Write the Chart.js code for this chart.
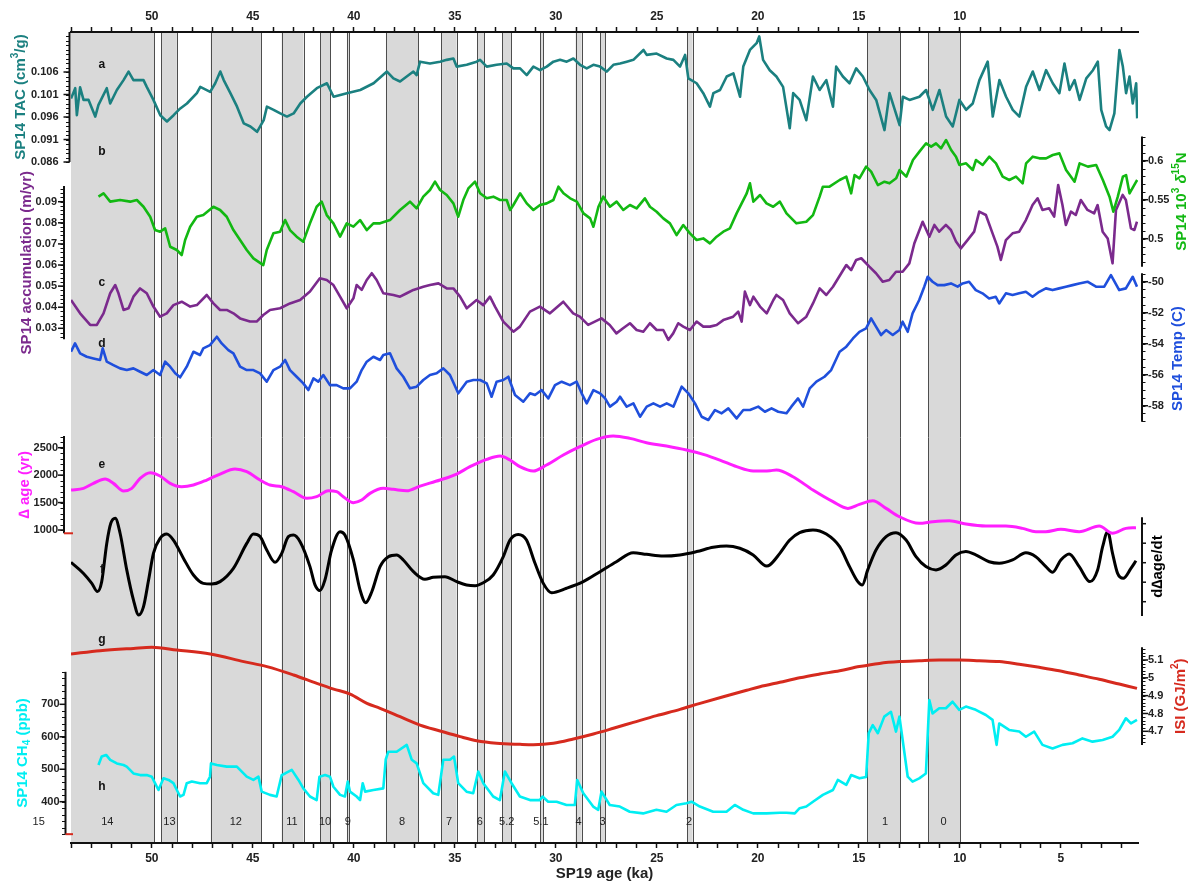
<!DOCTYPE html>
<html>
<head>
<meta charset="utf-8">
<title>SP14 records vs SP19 age</title>
<script src="https://cdn.jsdelivr.net/npm/chart.js@4.4.1/dist/chart.umd.min.js"></script>
<style>
  html, body { margin: 0; padding: 0; background: #fff; }
  #wrap { width: 1192px; height: 881px; }
</style>
</head>
<body>
<div id="wrap"><canvas id="chart" width="1192" height="881"></canvas></div>
<script>
// ---- tick labels ----
const bottomTicks = [50, 45, 40, 35, 30, 25, 20, 15, 10, 5];
const topTicks = [50, 45, 40, 35, 30, 25, 20, 15, 10];
const tacTicks = [0.086, 0.091, 0.096, 0.101, 0.106];
const n15Ticks = [0.5, 0.55, 0.6];
const accTicks = [0.03, 0.04, 0.05, 0.06, 0.07, 0.08, 0.09];
const tempTicks = [-58, -56, -54, -52, -50];
const dageTicks = [1000, 1500, 2000, 2500];
const rateTicks = [-0.2, -0.1, 0, 0.1, 0.2];
const isiTicks = [4.7, 4.8, 4.9, 5, 5.1];
const ch4Ticks = [400, 500, 600, 700];

// ---- stadials (ka) and event numbers ----
const stadialStart = [54.0, 49.54, 47.08, 43.57, 41.67, 40.34, 38.41, 35.67, 33.90, 32.65, 30.77, 29.02, 27.80, 23.50, 14.59, 11.57];
const stadialEnd = [49.88, 48.76, 44.59, 42.49, 41.17, 40.22, 36.81, 34.91, 33.54, 32.21, 30.64, 28.72, 27.56, 23.23, 12.94, 9.97];
const eventNames = ['15', '14', '13', '12', '11', '10', '9', '8', '7', '6', '5.2', '5.1', '4', '3', '2', '1', '0'];
const eventAge = [55.6, 52.2, 49.13, 45.84, 43.06, 41.42, 40.30, 37.61, 35.29, 33.76, 32.43, 30.74, 28.87, 27.68, 23.40, 13.70, 10.81];

// ---- a: SP14 TAC (cm3/g) ----
const tacAge = [54.0,53.79,53.71,53.55,53.38,53.13,52.80,52.64,52.23,52.06,51.73,51.40,51.15,50.91,50.41,50.25,49.92,49.58,49.25,48.92,48.59,48.26,47.77,47.60,47.11,46.86,46.61,46.44,46.11,45.78,45.45,45.12,44.79,44.46,44.30,43.97,43.64,43.31,42.98,42.65,42.32,41.83,41.33,41.00,40.34,39.68,39.02,38.36,38.04,37.71,37.38,37.05,36.89,36.72,36.23,35.73,35.40,35.07,34.91,34.41,33.92,33.75,33.42,32.93,32.43,32.10,31.77,31.44,31.11,30.78,30.45,30.12,29.79,29.46,29.13,28.80,28.47,28.14,27.81,27.48,27.15,26.82,26.49,26.16,25.66,25.50,25.01,24.51,24.18,23.85,23.60,23.44,23.03,22.70,22.37,22.20,21.87,21.54,21.21,20.88,20.72,20.39,20.06,19.93,19.74,19.41,19.08,18.75,18.42,18.25,17.93,17.60,17.27,16.94,16.61,16.28,16.12,15.79,15.46,15.13,14.80,14.47,14.14,13.73,13.48,12.98,12.82,12.49,12.00,11.67,11.34,11.01,10.68,10.35,10.02,9.69,9.36,9.03,8.62,8.37,8.04,7.71,7.38,7.05,6.72,6.39,6.06,5.73,5.40,5.07,4.82,4.57,4.32,4.07,3.74,3.41,3.17,3.00,2.76,2.59,2.35,2.10,1.93,1.77,1.60,1.44,1.27,1.22];
const tacVal = [0.1001,0.1024,0.0964,0.1026,0.0998,0.0998,0.0961,0.0987,0.1024,0.0990,0.1020,0.1042,0.1061,0.1042,0.1042,0.1027,0.0998,0.0964,0.0950,0.0964,0.0979,0.0990,0.1013,0.1027,0.1016,0.1035,0.1061,0.1042,0.1013,0.0983,0.0946,0.0939,0.0927,0.0953,0.0983,0.0976,0.0968,0.0961,0.0968,0.0990,0.1005,0.1024,0.1035,0.1005,0.1013,0.1020,0.1035,0.1061,0.1046,0.1039,0.1050,0.1061,0.1053,0.1083,0.1079,0.1083,0.1087,0.1090,0.1072,0.1076,0.1083,0.1087,0.1072,0.1076,0.1079,0.1068,0.1068,0.1053,0.1072,0.1064,0.1072,0.1083,0.1087,0.1083,0.1090,0.1076,0.1068,0.1076,0.1072,0.1061,0.1076,0.1079,0.1083,0.1087,0.1109,0.1098,0.1101,0.1090,0.1087,0.1072,0.1098,0.1046,0.1035,0.1013,0.0983,0.1013,0.1020,0.1050,0.1057,0.1005,0.1072,0.1109,0.1124,0.1139,0.1087,0.1064,0.1050,0.1027,0.0935,0.1013,0.0998,0.0953,0.1050,0.1020,0.1042,0.0983,0.1072,0.1050,0.1035,0.1068,0.1050,0.1020,0.0998,0.0931,0.1013,0.0942,0.1005,0.0998,0.1005,0.1020,0.0976,0.1020,0.0961,0.0939,0.0998,0.0976,0.0990,0.1042,0.1083,0.0961,0.1042,0.1005,0.0976,0.0961,0.1027,0.1061,0.1020,0.1064,0.1035,0.1013,0.1079,0.1020,0.1042,0.0998,0.1046,0.1064,0.1083,0.0976,0.0939,0.0931,0.0968,0.1109,0.1072,0.1013,0.1050,0.0990,0.1035,0.0957];

// ---- b: SP14 10^3 d15N ----
const n15Age = [52.64,52.39,52.06,51.57,51.07,50.74,50.41,50.08,49.84,49.59,49.34,49.09,48.76,48.52,48.35,48.10,47.77,47.45,46.95,46.62,46.29,45.96,45.63,45.30,44.97,44.48,44.31,43.98,43.65,43.40,43.16,42.83,42.50,42.17,41.84,41.59,41.34,41.01,40.68,40.35,40.02,39.69,39.36,39.03,38.70,38.21,37.71,37.22,36.89,36.56,36.23,35.98,35.73,35.40,35.07,34.83,34.58,34.33,34.00,33.75,33.42,33.09,32.76,32.43,32.26,32.10,31.77,31.44,31.11,30.78,30.45,30.12,29.87,29.62,29.29,28.96,28.63,28.30,28.14,27.89,27.65,27.32,26.99,26.66,26.33,26.00,25.59,25.34,25.01,24.68,24.35,24.02,23.69,23.36,23.03,22.70,22.37,22.04,21.71,21.38,21.05,20.80,20.55,20.39,20.22,19.89,19.57,19.24,18.91,18.58,18.09,17.60,17.27,16.94,16.78,16.45,15.95,15.62,15.38,15.21,14.97,14.64,14.39,14.06,13.73,13.48,13.15,12.98,12.65,12.32,12.00,11.67,11.42,11.18,10.93,10.68,10.43,10.19,10.02,9.69,9.36,9.20,8.87,8.54,8.21,7.88,7.55,7.22,6.89,6.72,6.39,6.06,5.73,5.40,5.07,4.74,4.32,4.07,3.66,3.25,2.92,2.59,2.40,2.18,1.93,1.77,1.60,1.27,1.22];
const n15Val = [0.5539,0.5582,0.5475,0.5496,0.5475,0.5496,0.5410,0.5282,0.5111,0.5090,0.5133,0.4897,0.4855,0.4791,0.4983,0.5154,0.5282,0.5303,0.5410,0.5368,0.5282,0.5111,0.4983,0.4855,0.4748,0.4662,0.4855,0.5069,0.5090,0.5239,0.5111,0.5026,0.4962,0.5197,0.5410,0.5475,0.5303,0.5197,0.5026,0.5197,0.5154,0.5239,0.5111,0.5197,0.5197,0.5239,0.5368,0.5475,0.5389,0.5539,0.5624,0.5731,0.5624,0.5560,0.5453,0.5282,0.5496,0.5645,0.5731,0.5582,0.5518,0.5539,0.5496,0.5496,0.5368,0.5432,0.5582,0.5453,0.5368,0.5432,0.5453,0.5496,0.5667,0.5582,0.5518,0.5475,0.5325,0.5261,0.5154,0.5410,0.5539,0.5410,0.5475,0.5368,0.5432,0.5389,0.5518,0.5410,0.5346,0.5261,0.5197,0.5047,0.5175,0.5069,0.4983,0.5004,0.4940,0.5026,0.5090,0.5133,0.5325,0.5453,0.5582,0.5710,0.5475,0.5560,0.5453,0.5410,0.5475,0.5325,0.5197,0.5218,0.5303,0.5539,0.5667,0.5667,0.5753,0.5795,0.5582,0.5816,0.5774,0.5924,0.5859,0.5688,0.5731,0.5710,0.5774,0.5881,0.5795,0.6009,0.6116,0.6223,0.6180,0.6223,0.6159,0.6265,0.6137,0.6052,0.5945,0.5966,0.5881,0.6009,0.5945,0.6052,0.5966,0.5795,0.5753,0.5795,0.5710,0.5966,0.6052,0.6030,0.6030,0.6073,0.6094,0.5881,0.5731,0.5966,0.5924,0.5945,0.5753,0.5539,0.5346,0.5539,0.5795,0.5816,0.5582,0.5731,0.5753];

// ---- c: SP14 accumulation (m/yr) ----
const accAge = [54.0,53.55,53.05,52.72,52.39,52.06,51.81,51.65,51.40,51.15,50.91,50.58,50.25,49.92,49.59,49.26,48.93,48.52,48.10,47.77,47.28,46.95,46.62,46.29,45.96,45.63,45.14,44.81,44.48,44.15,43.65,43.16,42.66,42.17,41.68,41.34,41.01,40.68,40.35,40.02,39.86,39.61,39.36,39.11,38.87,38.54,38.04,37.71,37.38,37.05,36.56,36.23,35.81,35.40,35.07,34.74,34.41,33.92,33.59,33.26,33.01,32.60,32.10,31.78,31.28,30.79,30.29,29.63,29.14,28.81,28.40,28.07,27.74,27.33,27.00,26.67,26.33,26.00,25.67,25.34,25.01,24.68,24.43,24.19,23.94,23.69,23.36,23.03,22.70,22.37,22.04,21.71,21.22,20.97,20.80,20.64,20.39,20.22,19.89,19.56,19.23,19.08,18.75,18.42,18.01,17.60,17.27,16.94,16.61,16.28,15.87,15.62,15.38,15.13,14.88,14.48,14.15,13.82,13.49,13.16,12.83,12.50,12.25,11.84,11.51,11.26,11.02,10.69,10.44,10.19,9.95,9.62,9.29,9.04,8.71,8.38,8.14,7.97,7.72,7.39,7.06,6.73,6.40,6.15,5.91,5.58,5.33,5.13,4.92,4.75,4.50,4.26,4.01,3.68,3.35,3.18,2.93,2.68,2.44,2.27,1.94,1.78,1.53,1.36,1.23];
const accVal = [0.0434,0.0371,0.0316,0.0316,0.0371,0.0466,0.0505,0.0466,0.0387,0.0395,0.0450,0.0489,0.0466,0.0403,0.0355,0.0371,0.0410,0.0426,0.0403,0.0410,0.0458,0.0418,0.0387,0.0387,0.0371,0.0347,0.0332,0.0332,0.0363,0.0387,0.0395,0.0418,0.0434,0.0474,0.0537,0.0529,0.0505,0.0450,0.0395,0.0442,0.0505,0.0482,0.0529,0.0561,0.0529,0.0466,0.0458,0.0450,0.0466,0.0482,0.0497,0.0505,0.0513,0.0489,0.0489,0.0450,0.0395,0.0434,0.0410,0.0450,0.0403,0.0332,0.0284,0.0308,0.0379,0.0403,0.0371,0.0426,0.0371,0.0355,0.0316,0.0332,0.0347,0.0316,0.0276,0.0300,0.0324,0.0292,0.0284,0.0324,0.0292,0.0292,0.0245,0.0276,0.0324,0.0308,0.0292,0.0332,0.0308,0.0308,0.0316,0.0339,0.0355,0.0379,0.0332,0.0474,0.0410,0.0450,0.0403,0.0371,0.0434,0.0458,0.0434,0.0371,0.0324,0.0355,0.0418,0.0489,0.0458,0.0497,0.0561,0.0600,0.0576,0.0624,0.0632,0.0592,0.0561,0.0521,0.0529,0.0568,0.0568,0.0608,0.0703,0.0805,0.0734,0.0790,0.0758,0.0790,0.0766,0.0711,0.0679,0.0718,0.0758,0.0853,0.0837,0.0750,0.0687,0.0624,0.0718,0.0750,0.0758,0.0813,0.0884,0.0916,0.0861,0.0869,0.0829,0.0979,0.0884,0.0790,0.0853,0.0837,0.0908,0.0861,0.0845,0.0884,0.0758,0.0726,0.0608,0.0861,0.0932,0.0908,0.0774,0.0766,0.0805];

// ---- d: SP14 temperature (C) ----
const tempAge = [54.0,53.80,53.55,53.22,52.89,52.56,52.43,52.23,51.90,51.57,51.24,50.91,50.58,50.25,49.92,49.59,49.34,49.09,48.84,48.60,48.27,47.94,47.61,47.45,47.12,46.78,46.54,46.21,45.96,45.63,45.30,44.97,44.64,44.31,43.98,43.65,43.40,43.16,42.83,42.50,42.25,42.00,41.76,41.51,41.18,40.85,40.52,40.19,39.86,39.61,39.36,39.03,38.70,38.54,38.21,37.88,37.55,37.22,36.89,36.56,36.23,35.90,35.57,35.24,34.83,34.41,34.08,33.75,33.42,33.18,32.93,32.60,32.35,32.02,31.61,31.28,31.03,30.70,30.37,30.04,29.71,29.30,28.97,28.72,28.47,28.14,27.81,27.56,27.32,26.99,26.82,26.49,26.16,25.83,25.50,25.17,24.84,24.51,24.18,23.77,23.44,23.11,22.78,22.45,22.12,21.79,21.46,21.05,20.72,20.39,19.98,19.65,19.32,18.99,18.58,18.34,18.01,17.76,17.43,17.10,16.70,16.37,15.95,15.62,15.29,14.97,14.64,14.39,14.15,13.90,13.65,13.32,12.99,12.83,12.58,12.34,12.01,11.76,11.59,11.35,11.10,10.77,10.44,10.11,9.86,9.54,9.21,8.88,8.55,8.22,8.05,7.72,7.39,7.06,6.73,6.40,6.07,5.74,5.41,5.08,4.75,4.42,4.09,3.68,3.26,2.85,2.52,2.11,1.78,1.44,1.23];
const tempVal = [-54.52,-53.98,-54.62,-54.84,-54.95,-55.05,-54.30,-55.16,-55.38,-55.59,-55.70,-55.59,-55.81,-56.02,-55.70,-56.02,-55.16,-55.48,-55.91,-56.17,-55.48,-54.52,-54.73,-54.30,-54.09,-53.55,-53.98,-54.41,-54.62,-55.48,-55.70,-55.70,-55.91,-56.45,-55.70,-55.48,-55.05,-55.70,-56.13,-56.56,-56.99,-56.24,-56.45,-56.02,-56.67,-56.67,-56.88,-56.88,-56.45,-55.70,-55.16,-54.84,-55.05,-54.73,-54.62,-55.59,-56.13,-56.88,-56.77,-56.34,-56.02,-55.91,-55.59,-56.02,-57.20,-56.45,-56.34,-56.34,-56.56,-57.42,-56.45,-56.34,-56.13,-57.31,-57.74,-57.20,-57.31,-56.99,-57.53,-56.67,-56.45,-56.67,-56.45,-57.20,-57.85,-56.99,-57.20,-57.53,-58.06,-57.74,-57.42,-58.06,-57.85,-58.71,-58.06,-57.85,-58.06,-57.85,-58.06,-56.77,-57.20,-57.85,-58.71,-58.92,-58.28,-58.49,-58.17,-58.82,-58.28,-58.28,-58.06,-58.39,-58.17,-58.39,-58.49,-58.06,-57.53,-58.06,-56.88,-56.45,-56.13,-55.70,-54.52,-54.19,-53.66,-53.23,-53.01,-52.37,-52.90,-53.44,-53.12,-53.44,-53.12,-52.58,-53.23,-52.04,-51.18,-50.32,-49.68,-50.00,-50.22,-50.22,-50.11,-50.32,-50.11,-50.00,-50.54,-50.75,-51.08,-50.97,-51.40,-50.75,-50.86,-50.75,-50.65,-50.97,-50.65,-50.43,-50.54,-50.43,-50.32,-50.22,-50.11,-50.00,-50.32,-50.32,-49.57,-50.54,-50.43,-49.68,-50.32];

// ---- e: delta age (yr) ----
const dageAge = [54.0,53.38,52.89,52.31,51.90,51.40,50.99,50.58,50.08,49.59,49.09,48.52,47.94,47.28,46.62,45.88,45.30,44.64,44.15,43.57,42.99,42.33,41.84,41.26,40.85,40.52,40.02,39.61,39.20,38.54,38.04,37.38,36.72,35.73,34.91,34.25,33.42,32.76,32.27,31.78,31.12,30.46,29.63,28.81,27.98,27.16,26.33,25.51,24.52,23.53,22.70,21.88,21.05,20.23,19.40,19.08,18.26,17.27,16.28,15.54,14.97,14.31,13.65,12.99,12.01,11.35,10.52,9.70,8.71,7.72,6.90,6.24,5.74,5.00,4.09,3.10,2.44,1.78,1.28];
const dageVal = [1728,1759,1850,1929,1850,1710,1759,1941,2044,1984,1850,1789,1820,1911,2020,2111,2063,1911,1820,1789,1698,1577,1607,1716,1698,1607,1498,1546,1668,1759,1741,1716,1801,1911,2020,2154,2287,2348,2275,2154,2075,2184,2366,2518,2652,2713,2670,2591,2530,2457,2378,2275,2154,2075,2081,2093,1971,1728,1516,1394,1467,1534,1394,1242,1121,1151,1170,1109,1072,1072,1030,969,969,1012,969,1072,939,1030,1042];

// ---- f: d(delta age)/dt ----
const rateAge = [54.0,53.38,52.97,52.69,52.48,52.23,52.03,51.81,51.57,51.24,50.91,50.65,50.41,50.16,49.92,49.59,49.26,48.93,48.43,47.94,47.45,47.03,46.62,45.96,45.30,44.97,44.64,44.31,43.90,43.57,43.24,42.99,42.66,42.17,41.92,41.68,41.43,41.10,40.68,40.44,40.02,39.69,39.41,39.11,38.70,38.29,37.88,37.55,37.05,36.48,36.07,35.49,34.91,34.42,34.00,33.59,33.10,32.60,32.27,31.86,31.45,31.03,30.62,30.21,29.47,28.64,27.81,27.00,26.17,25.51,24.68,23.86,23.03,22.21,21.55,20.89,20.23,19.56,19.41,18.91,18.42,17.93,17.27,16.61,15.95,15.46,15.05,14.83,14.56,14.15,13.65,13.16,12.66,12.17,11.68,11.18,10.69,10.19,9.70,9.21,8.55,8.05,7.39,6.73,6.24,5.74,5.41,5.00,4.59,4.09,3.56,3.18,2.93,2.68,2.44,2.19,1.91,1.53,1.28];
const rateVal = [0.002,-0.055,-0.106,-0.148,-0.097,0.099,0.202,0.228,0.151,-0.037,-0.191,-0.268,-0.225,-0.089,0.048,0.125,0.147,0.116,0.022,-0.063,-0.106,-0.109,-0.097,-0.029,0.099,0.147,0.134,0.065,0.002,0.048,0.134,0.142,0.108,-0.020,-0.114,-0.143,-0.089,0.065,0.159,0.142,0.014,-0.140,-0.205,-0.149,-0.020,0.031,0.040,0.014,-0.046,-0.085,-0.075,-0.072,-0.097,-0.114,-0.118,-0.103,-0.063,0.031,0.116,0.145,0.116,-0.003,-0.106,-0.154,-0.131,-0.097,-0.046,0.005,0.051,0.043,0.034,0.040,0.057,0.079,0.086,0.074,0.040,-0.017,-0.012,0.048,0.116,0.154,0.168,0.147,0.082,-0.020,-0.097,-0.114,-0.037,0.065,0.134,0.154,0.116,0.031,-0.020,-0.037,-0.012,0.040,0.057,0.040,0.005,-0.003,0.014,0.051,0.031,-0.020,-0.049,0.014,0.045,-0.020,-0.097,-0.037,0.082,0.159,0.048,-0.055,-0.080,-0.029,0.010];

// ---- g: ISI (GJ/m2) ----
const isiAge = [54.0,52.56,50.91,50.00,48.76,47.11,45.45,44.30,42.98,41.83,41.00,40.18,39.35,38.70,37.71,36.72,35.73,34.74,33.92,32.93,31.77,31.11,30.12,29.13,28.14,27.15,26.16,25.01,23.85,22.86,21.71,20.55,19.90,18.91,17.93,16.94,15.95,14.97,13.98,12.99,12.01,11.02,10.03,9.04,8.05,7.06,6.07,5.08,4.09,3.10,2.11,1.23];
const isiVal = [5.134,5.152,5.165,5.171,5.156,5.134,5.091,5.063,5.016,4.969,4.937,4.909,4.857,4.829,4.782,4.735,4.702,4.670,4.647,4.633,4.627,4.625,4.633,4.657,4.685,4.717,4.750,4.788,4.823,4.857,4.894,4.930,4.950,4.975,5.000,5.021,5.040,5.063,5.081,5.091,5.096,5.100,5.100,5.096,5.091,5.076,5.059,5.040,5.016,4.992,4.965,4.941];

// ---- h: SP14 CH4 (ppb) ----
const ch4Age = [52.64,52.48,52.26,52.06,51.73,51.40,51.24,50.91,50.58,50.25,50.00,49.84,49.67,49.42,49.17,48.93,48.76,48.60,48.43,48.27,48.02,47.61,47.28,47.12,47.07,46.78,46.29,45.79,45.30,44.97,44.72,44.56,44.15,43.82,43.57,43.40,43.07,42.74,42.50,42.17,41.84,41.70,41.42,41.18,41.01,40.68,40.44,40.30,40.19,39.86,39.69,39.56,39.44,39.03,38.54,38.42,38.29,37.88,37.38,37.13,36.89,36.56,36.07,35.82,35.57,35.24,35.04,34.83,34.42,34.09,33.84,33.59,33.10,32.77,32.52,32.19,31.78,31.28,30.79,30.66,30.38,29.96,29.47,29.06,28.94,28.64,28.15,27.90,27.74,27.33,26.83,26.34,25.68,25.02,24.52,24.03,23.53,23.28,22.87,22.21,21.55,21.14,20.72,20.23,19.57,18.91,18.58,18.17,17.93,17.60,17.27,16.78,16.28,16.04,15.62,15.38,14.97,14.64,14.51,14.31,14.06,13.74,13.41,13.16,12.99,12.83,12.58,12.34,12.01,11.68,11.51,11.35,11.02,10.69,10.36,10.03,9.70,9.21,8.71,8.38,8.18,8.05,7.56,7.06,6.73,6.32,5.91,5.41,4.92,4.42,3.93,3.43,2.93,2.44,2.11,1.78,1.53,1.23];
const ch4Val = [513,539,544,529,518,513,508,487,482,482,477,457,436,472,467,457,436,416,421,457,462,457,457,477,518,513,508,508,477,467,477,431,421,416,482,487,498,467,441,416,405,477,482,477,446,421,416,462,431,416,405,457,431,436,441,530,554,554,575,529,518,457,426,421,529,529,539,457,431,426,493,457,416,405,493,457,416,405,405,416,400,400,390,390,467,426,385,375,431,390,385,369,364,375,369,390,395,400,385,369,369,390,375,364,364,366,366,364,380,385,400,421,436,467,452,482,472,476,611,636,611,662,677,616,662,590,477,462,472,487,713,672,688,688,708,683,693,683,667,652,575,641,621,616,600,616,575,564,575,580,595,585,590,600,621,657,641,652];

// ---- styling ----
const FONT = '"Liberation Sans", Arial, Helvetica, sans-serif';
const C = {
    tac: '#1b8080', n15: '#12b812', acc: '#7b2a8d', temp: '#1f4fdc',
    dage: '#ff1fff', rate: '#000000', isi: '#d62a1e', ch4: '#00eef2'
};

// one stacked axis per record; min/max place each record in its own band
const yAxes = [
    { id: 'yTac', side: 'left', min: -0.06533, max: 0.11489, ticks: tacTicks, minor: 0.001, span: [0.086, 0.1149],
      shift: -1.5, labelGap: 11, titleGap: 49, color: C.tac,
      title: [{ t: 'SP14 TAC (cm' }, { t: '3', sup: 1 }, { t: '/g)' }], letter: 'a', letterAt: 0.1076 },
    { id: 'yN15', side: 'right', min: -0.2747, max: 0.765, ticks: n15Ticks, minor: 0.01, span: [0.464, 0.631],
      shift: 4, labelGap: 6, titleGap: 40, color: C.n15,
      title: [{ t: 'SP14 10' }, { t: '3', sup: 1 }, { t: ' ' }, { t: 'δ', it: 1 }, { t: '15', sup: 1 }, { t: 'N' }], letter: 'b', letterAt: 0.6115 },
    { id: 'yAcc', side: 'left', min: -0.21393, max: 0.17043, ticks: accTicks, minor: 0.002, span: [0.0248, 0.0974],
      shift: -7, labelGap: 7, titleGap: 37, color: C.acc,
      title: [{ t: 'SP14 accumulation (m/yr)' }], letter: 'c', letterAt: 0.0516 },
    { id: 'yTemp', side: 'right', min: -86.21, max: -33.89, ticks: tempTicks, minor: 0.5, span: [-59.03, -49.46],
      shift: 4, labelGap: 6, titleGap: 36, titleShift: 11, color: C.temp,
      title: [{ t: 'SP14 Temp (C)' }], letter: 'd', letterAt: -53.97 },
    { id: 'yDage', side: 'left', min: -4704.7, max: 10076.5, ticks: dageTicks, minor: 100, span: [940, 2713],
      shift: -7, labelGap: 6, titleGap: 39, color: C.dage, stub: true,
      title: [{ t: '∆ age (yr)' }], letter: 'e', letterAt: 2185 },
    { id: 'yRate', side: 'right', min: -1.4374, max: 2.7215, ticks: rateTicks, minor: 0, span: [-0.273, 0.233],
      shift: 4, labelGap: 0, noLabels: true, majorLen: 4, titleGap: 16, color: C.rate,
      title: [{ t: 'd∆age/dt' }], letter: 'f', letterAt: -0.037 },
    { id: 'yIsi', side: 'right', min: 4.0734, max: 8.623, ticks: isiTicks, minor: 0.02, span: [4.623, 5.171],
      shift: 4, labelGap: 6, titleGap: 39, color: C.isi,
      title: [{ t: 'ISI (GJ/m' }, { t: '2', sup: 1 }, { t: ')' }], letter: 'g', letterAt: 5.212 },
    { id: 'yCh4', side: 'left', min: 272.8, max: 2770.8, ticks: ch4Ticks, minor: 20, span: [300, 800],
      shift: -5.5, labelGap: 6, titleGap: 43, color: C.ch4, stub: true,
      title: [{ t: 'SP14 CH' }, { t: '4', sub: 1 }, { t: ' (ppb)' }], letter: 'h', letterAt: 446 }
];

const LETTER_AGE = 52.47;
const EVENT_CH4 = 338;

function pts(ages, vals) {
    return ages.map((a, i) => ({ x: a, y: vals[i] }));
}

// rotated axis title with super/subscripts
function drawTitle(ctx, parts, cx, cy, color) {
    const size = 15;
    const fontOf = p => (p.it ? 'italic ' : '') + 'bold ' + ((p.sup || p.sub) ? 10 : size) + 'px ' + FONT;
    ctx.save();
    ctx.translate(cx, cy);
    ctx.rotate(-Math.PI / 2);
    ctx.fillStyle = color;
    ctx.textBaseline = 'middle';
    ctx.textAlign = 'left';
    let w = 0;
    parts.forEach(p => { ctx.font = fontOf(p); w += ctx.measureText(p.t).width; });
    let x = -w / 2;
    parts.forEach(p => {
        ctx.font = fontOf(p);
        const dy = p.sup ? -5.5 : (p.sub ? 4.5 : 0);
        ctx.fillText(p.t, x, dy);
        x += ctx.measureText(p.t).width;
    });
    ctx.restore();
}

// Stadial bands behind everything
const stadialPlugin = {
    id: 'stadials',
    beforeDraw(chart) {
        const { ctx, chartArea: ca, scales } = chart;
        const x = scales.x;
        ctx.save();
        ctx.fillStyle = '#ffffff';
        ctx.fillRect(0, 0, chart.width, chart.height);
        ctx.fillStyle = '#d9d9d9';
        stadialStart.forEach((a, i) => {
            const x0 = x.getPixelForValue(a), x1 = x.getPixelForValue(stadialEnd[i]);
            ctx.fillRect(x0, ca.top, x1 - x0, ca.bottom - ca.top);
        });
        ctx.strokeStyle = '#4d4d4d';
        ctx.lineWidth = 1;
        const edges = stadialStart.filter(a => a < x.max).concat(stadialEnd);
        edges.forEach(a => {
            const px = Math.round(x.getPixelForValue(a)) + 0.5;
            ctx.beginPath();
            ctx.moveTo(px, ca.top);
            ctx.lineTo(px, ca.bottom);
            ctx.stroke();
        });
        ctx.restore();
    }
};

// Partial y axes, titles, panel letters and event numbers
const axesPlugin = {
    id: 'stackedAxes',
    afterDraw(chart) {
        const { ctx, chartArea: ca, scales } = chart;
        const x = scales.x;
        yAxes.forEach(ax => {
            const s = scales[ax.id];
            const left = ax.side === 'left';
            const dir = left ? -1 : 1;
            const x0 = (left ? ca.left : ca.right) + ax.shift;
            const yTop = s.getPixelForValue(ax.span[1]);
            const yBot = s.getPixelForValue(ax.span[0]);
            ctx.save();
            ctx.strokeStyle = '#111';
            ctx.lineWidth = 2;
            ctx.beginPath();
            ctx.moveTo(x0, yTop);
            ctx.lineTo(x0, yBot);
            ctx.stroke();

            if (ax.stub) {
                ctx.strokeStyle = C.isi;
                ctx.beginPath();
                ctx.moveTo(x0, yBot);
                ctx.lineTo(ca.left + 2, yBot);
                ctx.stroke();
                ctx.strokeStyle = '#111';
            }

            ctx.lineWidth = 1;
            if (ax.minor) {
                const n0 = Math.ceil(ax.span[0] / ax.minor - 1e-6);
                const n1 = Math.floor(ax.span[1] / ax.minor + 1e-6);
                for (let n = n0; n <= n1; n++) {
                    const y = Math.round(s.getPixelForValue(n * ax.minor)) + 0.5;
                    ctx.beginPath();
                    ctx.moveTo(x0, y);
                    ctx.lineTo(x0 + dir * 3.5, y);
                    ctx.stroke();
                }
            }

            ctx.lineWidth = 1.5;
            ctx.font = 'bold 11px ' + FONT;
            ctx.fillStyle = '#222';
            ctx.textBaseline = 'middle';
            ctx.textAlign = left ? 'right' : 'left';
            ax.ticks.forEach(v => {
                const y = s.getPixelForValue(v);
                ctx.beginPath();
                ctx.moveTo(x0, y);
                ctx.lineTo(x0 + dir * (ax.majorLen || 6), y);
                ctx.stroke();
                if (!ax.noLabels) ctx.fillText(String(v), x0 + dir * ax.labelGap, y);
            });
            ctx.restore();

            const yMid = (yTop + yBot) / 2 + (ax.titleShift || 0);
            drawTitle(ctx, ax.title, x0 + dir * ax.titleGap, yMid, ax.color);

            ctx.save();
            ctx.font = 'bold 12px ' + FONT;
            ctx.fillStyle = '#111';
            ctx.textAlign = 'center';
            ctx.textBaseline = 'middle';
            ctx.fillText(ax.letter, x.getPixelForValue(LETTER_AGE), s.getPixelForValue(ax.letterAt));
            ctx.restore();
        });

        // event numbers along the bottom
        const yCh4 = scales.yCh4;
        ctx.save();
        ctx.font = '11px ' + FONT;
        ctx.fillStyle = '#222';
        ctx.textAlign = 'center';
        ctx.textBaseline = 'middle';
        eventNames.forEach((name, i) => {
            ctx.fillText(name, x.getPixelForValue(eventAge[i]), yCh4.getPixelForValue(EVENT_CH4));
        });
        ctx.restore();
    }
};

const series = [
    { label: 'SP14 TAC', ages: tacAge, vals: tacVal, axis: 'yTac', color: C.tac },
    { label: 'SP14 d15N', ages: n15Age, vals: n15Val, axis: 'yN15', color: C.n15 },
    { label: 'SP14 accumulation', ages: accAge, vals: accVal, axis: 'yAcc', color: C.acc },
    { label: 'SP14 Temp', ages: tempAge, vals: tempVal, axis: 'yTemp', color: C.temp },
    { label: 'Delta age', ages: dageAge, vals: dageVal, axis: 'yDage', color: C.dage, smooth: true },
    { label: 'dDelta age/dt', ages: rateAge, vals: rateVal, axis: 'yRate', color: C.rate, smooth: true },
    { label: 'ISI', ages: isiAge, vals: isiVal, axis: 'yIsi', color: C.isi, smooth: true },
    { label: 'SP14 CH4', ages: ch4Age, vals: ch4Val, axis: 'yCh4', color: C.ch4 }
];

const xTickFont = { family: FONT, size: 12, weight: 'bold' };

const scales = {
    x: {
        type: 'linear', axis: 'x', position: 'bottom', min: 1.18, max: 54, reverse: true,
        afterFit: s => { s.height = 38; },
        border: { display: true, color: '#111', width: 2 },
        grid: { drawOnChartArea: false, tickLength: 5, tickColor: '#111', tickWidth: 1.5 },
        ticks: {
            stepSize: 1, includeBounds: false, autoSkip: false, maxRotation: 0, padding: 3,
            color: '#222', font: xTickFont,
            callback: v => bottomTicks.includes(v) ? String(v) : ''
        },
        title: {
            display: true, text: 'SP19 age (ka)', color: '#222', padding: 0,
            font: { family: FONT, size: 15, weight: 'bold', lineHeight: 1 }
        }
    },
    x2: {
        type: 'linear', axis: 'x', position: 'top', min: 1.18, max: 54, reverse: true,
        afterFit: s => { s.height = 32; },
        border: { display: true, color: '#111', width: 2 },
        grid: { drawOnChartArea: false, tickLength: 5, tickColor: '#111', tickWidth: 1.5 },
        ticks: {
            stepSize: 1, includeBounds: false, autoSkip: false, maxRotation: 0, padding: 3,
            color: '#222', font: xTickFont,
            callback: v => topTicks.includes(v) ? String(v) : ''
        }
    }
};
yAxes.forEach(ax => {
    scales[ax.id] = { type: 'linear', axis: 'y', position: ax.side, display: false, min: ax.min, max: ax.max };
});

new Chart(document.getElementById('chart').getContext('2d'), {
    type: 'line',
    data: {
        datasets: series.map(s => ({
            label: s.label,
            data: pts(s.ages, s.vals),
            xAxisID: 'x',
            yAxisID: s.axis,
            borderColor: s.color,
            backgroundColor: s.color,
            borderWidth: s.smooth ? 3 : 2.6,
            pointRadius: 0,
            fill: false,
            tension: 0,
            cubicInterpolationMode: s.smooth ? 'monotone' : 'default',
            borderJoinStyle: 'round'
        }))
    },
    options: {
        responsive: false,
        devicePixelRatio: 1,
        animation: false,
        layout: { padding: { left: 71, right: 54, top: 0, bottom: 0 } },
        plugins: { legend: { display: false }, tooltip: { enabled: false } },
        scales: scales
    },
    plugins: [stadialPlugin, axesPlugin]
});
</script>
</body>
</html>
